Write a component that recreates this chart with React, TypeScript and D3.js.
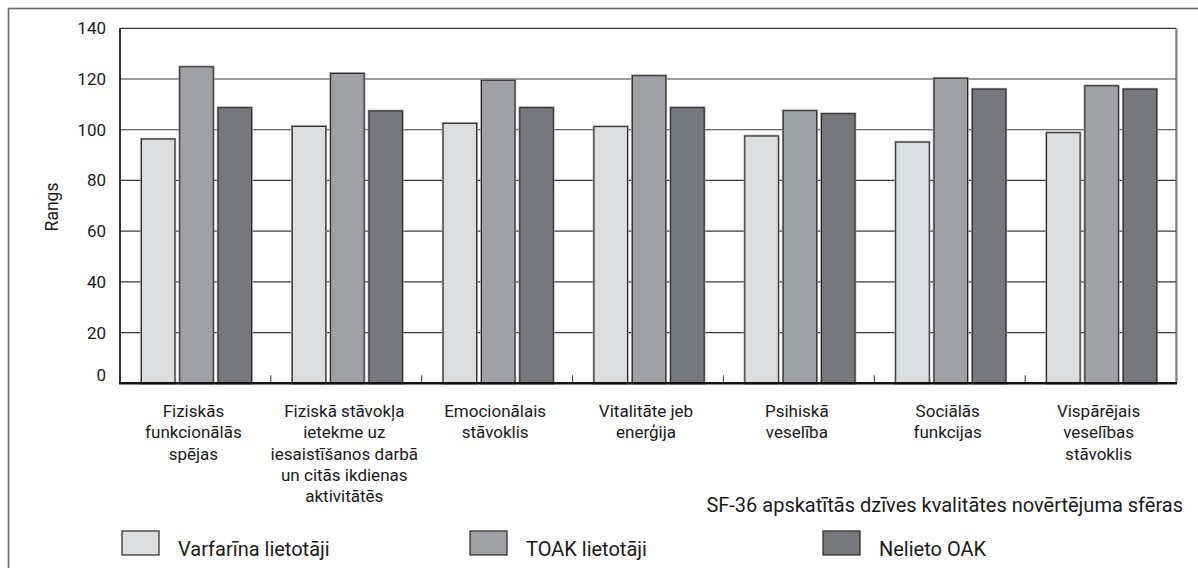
import React from "react";
import * as d3 from "d3";

// SF-36 quality-of-life domains (x categories), each label split into lines
const categories: string[][] = [
  ["Fiziskās", "funkcionālās", "spējas"],
  ["Fiziskā stāvokļa", "ietekme uz", "iesaistīšanos darbā", "un citās ikdienas", "aktivitātēs"],
  ["Emocionālais", "stāvoklis"],
  ["Vitalitāte jeb", "enerģija"],
  ["Psihiskā", "veselība"],
  ["Sociālās", "funkcijas"],
  ["Vispārējais", "veselības", "stāvoklis"],
];

const seriesNames = ["Varfarīna lietotāji", "TOAK lietotāji", "Nelieto OAK"];
const seriesColors = ["#dcdddf", "#a0a1a5", "#77787c"];

const varfarinValues = [96.3, 101.3, 102.5, 101.2, 97.5, 95.1, 98.8];
const toakValues = [124.8, 122.2, 119.5, 121.3, 107.5, 120.3, 117.3];
const noOakValues = [108.7, 107.4, 108.7, 108.7, 106.3, 116, 116];

const yTicks = [0, 20, 40, 60, 80, 100, 120, 140];
const yTitle = "Rangs";
const xTitle = "SF-36 apskatītās dzīves kvalitātes novērtējuma sfēras";

const FONT = "Roboto, 'Liberation Sans', Arial, sans-serif";

export default function App() {
  const W = 1198;
  const H = 568;
  const left = 120;
  const right = 1176;
  const top = 28.3;
  const bottom = 383.3;

  const seriesValues = [varfarinValues, toakValues, noOakValues];
  const keys = categories.map((_, i) => String(i));

  const x0 = d3.scaleBand<string>().domain(keys).range([left, right]).padding(0);
  const x1 = d3
    .scaleBand<string>()
    .domain(seriesNames)
    .range([19, 134])
    .paddingInner(0.128)
    .paddingOuter(0.064);
  const y = d3.scaleLinear().domain([0, 140]).range([bottom, top]);

  const legendX = [122, 470, 823];

  return (
    <svg
      width={W}
      height={H}
      style={{ position: "absolute", left: 0, top: 0, background: "#fff" }}
      fontFamily={FONT}
    >
      {/* outer frame */}
      <rect x={8.5} y={8.5} width={1300} height={700} fill="none" stroke="#6a6a6a" strokeWidth={1.6} />

      {/* gridlines */}
      {yTicks
        .filter((t) => t > 0)
        .map((t) => (
          <line key={t} x1={left} x2={right} y1={y(t)} y2={y(t)} stroke="#3a3a3a" strokeWidth={1.2} />
        ))}
      {/* right frame edge */}
      <line x1={right + 1} x2={right + 1} y1={top} y2={bottom} stroke="#aaa" strokeWidth={1.5} />
      <line x1={right} x2={right} y1={top} y2={bottom} stroke="#444" strokeWidth={1} />

      {/* bars */}
      {keys.map((k, ci) => (
        <g key={k} transform={`translate(${x0(k)},0)`}>
          {seriesNames.map((s, si) => {
            const v = seriesValues[si][ci];
            const bx = x1(s)!;
            const bw = x1.bandwidth();
            return (
              <g key={s}>
                <rect x={bx} y={y(v)} width={bw} height={bottom - y(v)} fill="none" stroke="#9a9a9a" strokeWidth={2.6} />
                <rect x={bx} y={y(v)} width={bw} height={bottom - y(v)} fill={seriesColors[si]} stroke="#262626" strokeWidth={1} />
              </g>
            );
          })}
        </g>
      ))}

      {/* category boundary ticks */}
      {keys.slice(1).map((k) => (
        <line key={k} x1={x0(k)!} x2={x0(k)!} y1={bottom} y2={bottom - 8} stroke="#333" strokeWidth={1} />
      ))}

      {/* axes */}
      <line x1={left} x2={left} y1={top} y2={bottom} stroke="#1a1a1a" strokeWidth={1.8} />
      <line x1={left - 1} x2={right + 1} y1={bottom} y2={bottom} stroke="#111" strokeWidth={2.4} />

      {/* y tick labels */}
      {yTicks.map((t) => (
        <text
          key={t}
          x={106}
          y={y(t) + (t === 0 ? -8 : 0)}
          dy="0.35em"
          textAnchor="end"
          fontSize={17}
          fill="#1a1a1a"
        >
          {t}
        </text>
      ))}

      {/* y title */}
      <text
        transform={`translate(52,207) rotate(-90)`}
        textAnchor="middle"
        dy="0.35em"
        fontSize={17.5}
        fill="#1a1a1a"
      >
        {yTitle}
      </text>

      {/* category labels */}
      {keys.map((k, ci) => (
        <text
          key={k}
          x={x0(k)! + x0.bandwidth() / 2 - 2}
          y={417}
          textAnchor="middle"
          fontSize={17}
          fill="#1a1a1a"
        >
          {categories[ci].map((line, li) => (
            <tspan key={li} x={x0(k)! + x0.bandwidth() / 2 - 2} dy={li === 0 ? 0 : 21.3}>
              {line}
            </tspan>
          ))}
        </text>
      ))}

      {/* x title */}
      <text x={1183} y={512} textAnchor="end" fontSize={20} fill="#1a1a1a">
        {xTitle}
      </text>

      {/* legend */}
      {seriesNames.map((s, si) => (
        <g key={s}>
          <rect x={legendX[si]} y={531} width={37} height={24} fill={seriesColors[si]} stroke="#262626" strokeWidth={1.2} />
          <text x={legendX[si] + 56} y={556} fontSize={20} fill="#1a1a1a">
            {s}
          </text>
        </g>
      ))}
    </svg>
  );
}
